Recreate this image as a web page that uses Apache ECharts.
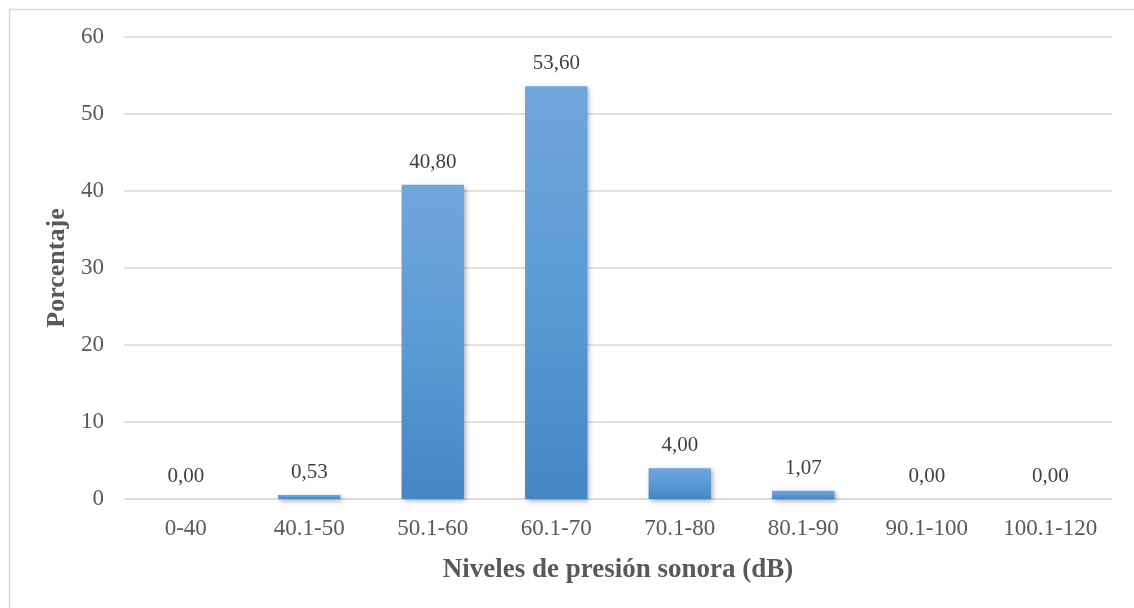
<!DOCTYPE html>
<html>
<head>
<meta charset="utf-8">
<script src="https://cdn.jsdelivr.net/npm/echarts@6/dist/echarts.min.js"></script>
<style>
html,body{margin:0;padding:0;background:#fff;}
#chart{width:1134px;height:608px;}
</style>
</head>
<body>
<div id="chart"></div>
<script>
const categories = ['0-40','40.1-50','50.1-60','60.1-70','70.1-80','80.1-90','90.1-100','100.1-120'];
const values = [0.00, 0.53, 40.80, 53.60, 4.00, 1.07, 0.00, 0.00];
const yTicks = [0, 10, 20, 30, 40, 50, 60];
const xTitle = 'Niveles de presión sonora (dB)';
const yTitle = 'Porcentaje';

const font = '"Liberation Serif", "Times New Roman", serif';
const chart = echarts.init(document.getElementById('chart'), null, {renderer:'canvas'});
chart.setOption({
  animation:false,
  backgroundColor:'#ffffff',
  graphic:[{
    type:'rect', left:7, top:7, z:-1,
    shape:{width:1140, height:620},
    style:{fill:'none', stroke:'#d9d9d9', lineWidth:1.5}
  }],
  grid:{left:124, right:22, top:37, bottom:109},
  xAxis:{
    type:'category', data:categories,
    axisLine:{show:true, lineStyle:{color:'#d9d9d9', width:1.5}},
    axisTick:{show:false},
    axisLabel:{color:'#595959', fontFamily:font, fontSize:23, margin:18},
    name:xTitle, nameLocation:'middle', nameGap:58,
    nameTextStyle:{color:'#595959', fontFamily:font, fontSize:27, fontWeight:'bold'}
  },
  yAxis:{
    type:'value', min:yTicks[0], max:yTicks[yTicks.length-1], interval:10,
    axisLine:{show:false}, axisTick:{show:false},
    splitLine:{lineStyle:{color:'#d9d9d9', width:1.5}},
    axisLabel:{color:'#595959', fontFamily:font, fontSize:23, margin:20},
    name:yTitle, nameLocation:'middle', nameGap:54, nameRotate:90,
    nameTextStyle:{color:'#595959', fontFamily:font, fontSize:26, fontWeight:'bold'}
  },
  series:[{
    type:'bar', data:values, barWidth:'50.5%',
    itemStyle:{
      color:new echarts.graphic.LinearGradient(0,0,0,1,[
        {offset:0, color:'#71a6db'},
        {offset:0.5, color:'#5b9bd5'},
        {offset:1, color:'#4486c6'}
      ]),
      shadowColor:'rgba(0,0,0,0.35)', shadowBlur:5, shadowOffsetX:2, shadowOffsetY:2
    },
    label:{
      show:true, position:'top', distance:12,
      color:'#404040', fontFamily:font, fontSize:21,
      formatter:p => p.value.toFixed(2).replace('.', ',')
    }
  }]
});
</script>
</body>
</html>
